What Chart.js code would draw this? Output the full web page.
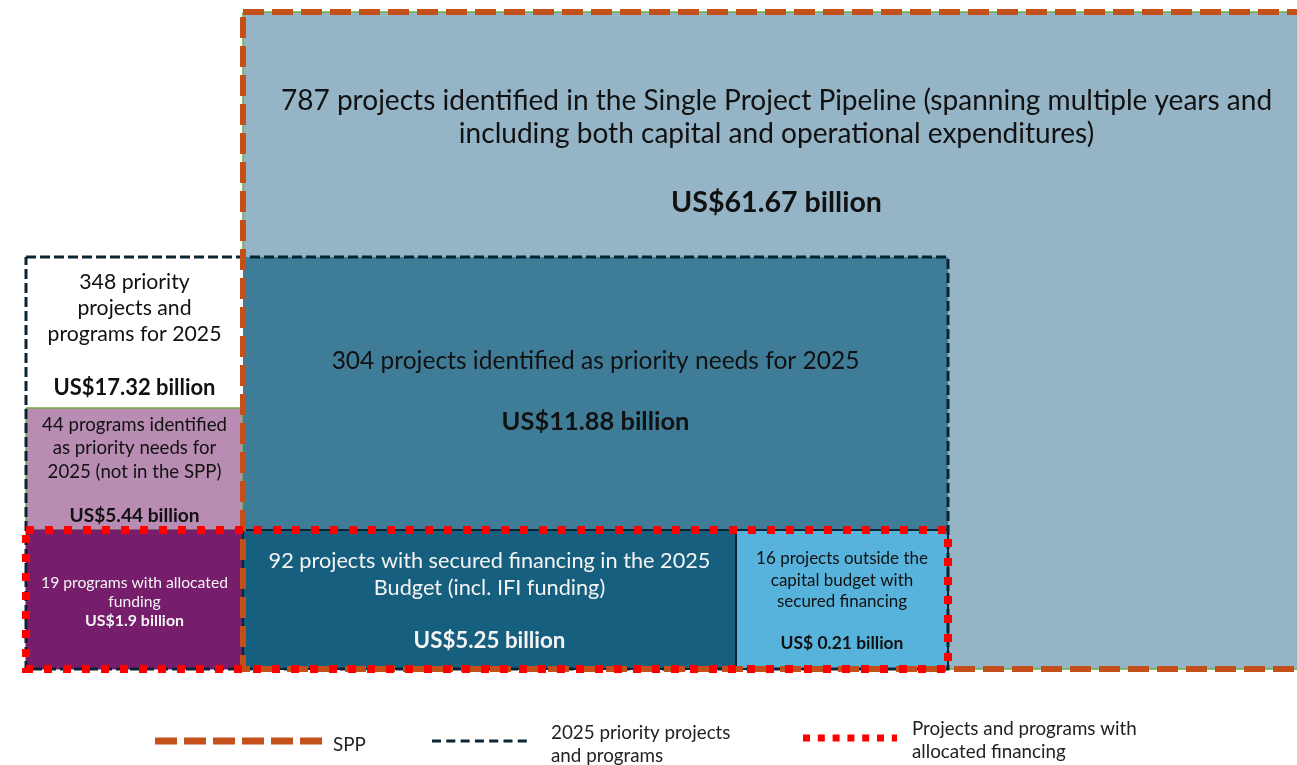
<!DOCTYPE html>
<html>
<head>
<meta charset="utf-8">
<script src="https://cdn.jsdelivr.net/npm/chart.js@4.4.1/dist/chart.umd.min.js"></script>
<style>
  html, body { margin: 0; padding: 0; background: #fff; }
  canvas { display: block; }
</style>
</head>
<body>
<canvas id="myChart" width="1297" height="765"></canvas>
<script>
// --- DONNÉES ---
// boxes, bottom to top: SPP, 348 priority, 44 programs, 19 programs, 304 projects, 92 projects, 16 projects
const boxLines = [
    ['787 projects identified in the Single Project Pipeline (spanning multiple years and',
     'including both capital and operational expenditures)'],
    ['348 priority', 'projects and', 'programs for 2025'],
    ['44 programs identified', 'as priority needs for', '2025 (not in the SPP)'],
    ['19 programs with allocated', 'funding'],
    ['304 projects identified as priority needs for 2025'],
    ['92 projects with secured financing in the 2025', 'Budget (incl. IFI funding)'],
    ['16 projects outside the', 'capital budget with', 'secured financing']
];
const boxBillions = [61.67, 17.32, 5.44, 1.9, 11.88, 5.25, 0.21];
const boxCurrency = ['US$', 'US$', 'US$', 'US$', 'US$', 'US$', 'US$ '];

// extents in diagram units
const boxX0 = [243, 26, 26, 26, 243, 243, 736];
const boxX1 = [1310, 243, 243, 243, 948, 736, 948];
const boxY0 = [12, 257, 408, 530, 257, 530, 530];
const boxY1 = [669, 408, 530, 669, 530, 669, 669];

// outlines: SPP, 2025 priority, allocated financing
const outlineNames = ['SPP', '2025 priority projects and programs', 'Projects and programs with allocated financing'];
const outlineX0 = [243, 26, 26];
const outlineX1 = [1310, 948, 948];
const outlineY0 = [12, 257, 530];
const outlineY1 = [669, 669, 669];

const legendLines = [['SPP'], ['2025 priority projects', 'and programs'], ['Projects and programs with', 'allocated financing']];

// --- STYLES ---
const FONT = 'Lato, "Open Sans", sans-serif';
const boxFill = ['#95b4c6', '#ffffff', '#b98cb3', '#761e6c', '#3f7c98', '#175f7f', '#57b3db'];
const boxBorder = ['#70ad47', '#ffffff', '#70ad47', '#761e6c', '#3f7c98', '#0b2433', '#0b2433'];
const boxBorderW = [1.5, 0, 1.5, 1, 0, 2, 2];
const boxText = ['#111', '#111', '#111', '#f4f4f4', '#111', '#f4f4f4', '#111'];
// text placement: y of each line, y of value, widest line index + its width, value width
const boxTextPos = [
    { y: [101, 134], vy: 203, fit: [0, 992], vfit: 211 },
    { y: [282, 308, 334], vy: 388, fit: [2, 174], vfit: 162 },
    { y: [425, 448, 472], vy: 516, fit: [0, 185], vfit: 130 },
    { y: [583, 602], vy: 621, fit: [0, 187], vfit: 99 },
    { y: [361], vy: 422, fit: [0, 528], vfit: 188 },
    { y: [561, 588], vy: 641, fit: [0, 442], vfit: 152 },
    { y: [559, 581, 602], vy: 643, fit: [0, 172], vfit: 123 }
];
const outlineStyle = [
    { color: '#c3501a', width: 6, dash: [21, 8] },
    { color: '#0b2433', width: 3, dash: [10, 4] },
    { color: '#ff0000', width: 8, dash: [8, 11] }
];
const legendStyle = [
    { x0: 155, x1: 322, y: 741, dash: [22, 7], width: 7, tx: 333, ty: [745], fit: [0, 38] },
    { x0: 432, x1: 527, y: 741, dash: [9, 5.3], width: 3, tx: 551, ty: [733, 756], fit: [0, 175] },
    { x0: 803, x1: 897, y: 738, dash: [7, 7.8], width: 7, tx: 912, ty: [729, 752], fit: [0, 225] }
];

function rectPoints(x0, x1, y0, y1) {
    return [{ x: x0, y: y0 }, { x: x1, y: y0 }, { x: x1, y: y1 }, { x: x0, y: y1 }, { x: x0, y: y0 }];
}

const datasets = [];
boxX0.forEach((_, i) => {
    datasets.push({
        data: rectPoints(boxX0[i], boxX1[i], boxY0[i], boxY1[i]),
        showLine: true, fill: 'shape',
        backgroundColor: boxFill[i], borderColor: boxBorder[i], borderWidth: boxBorderW[i]
    });
});
// draw order: priority (black) under SPP (orange) under financing (red)
[1, 0, 2].forEach(i => {
    const s = outlineStyle[i];
    datasets.push({
        label: outlineNames[i],
        data: rectPoints(outlineX0[i], outlineX1[i], outlineY0[i], outlineY1[i]),
        showLine: true, fill: false,
        borderColor: s.color, borderWidth: s.width, borderDash: s.dash
    });
});
legendStyle.forEach((s, i) => {
    datasets.push({
        label: outlineNames[i],
        data: [{ x: s.x0, y: s.y }, { x: s.x1, y: s.y }],
        showLine: true, fill: false,
        borderColor: outlineStyle[i].color, borderWidth: s.width, borderDash: s.dash
    });
});
// first dataset at the bottom
datasets.forEach((d, i) => {
    d.order = datasets.length - i;
    d.pointRadius = 0;
    d.tension = 0;
    d.borderCapStyle = 'butt';
    d.borderJoinStyle = 'miter';
});

function fitSize(ctx, text, weight, width) {
    ctx.font = `${weight} 100px ${FONT}`;
    return 100 * width / ctx.measureText(text).width;
}

const textPlugin = {
    id: 'boxText',
    afterDatasetsDraw(chart) {
        const { ctx, scales: { x, y } } = chart;
        ctx.save();
        ctx.textAlign = 'center';
        ctx.textBaseline = 'middle';
        boxLines.forEach((lines, i) => {
            const p = boxTextPos[i];
            const cx = x.getPixelForValue((boxX0[i] + boxX1[i]) / 2);
            const size = fitSize(ctx, lines[p.fit[0]], 'normal', p.fit[1]);
            ctx.fillStyle = boxText[i];
            ctx.font = `normal ${size}px ${FONT}`;
            lines.forEach((t, k) => ctx.fillText(t, cx, y.getPixelForValue(p.y[k])));
            const val = boxCurrency[i] + boxBillions[i] + ' billion';
            const vsize = fitSize(ctx, val, 'bold', p.vfit);
            ctx.font = `bold ${vsize}px ${FONT}`;
            ctx.fillText(val, cx, y.getPixelForValue(p.vy));
        });
        ctx.textAlign = 'left';
        ctx.fillStyle = '#222';
        const lsize = fitSize(ctx, legendLines[2][0], 'normal', legendStyle[2].fit[1]);
        ctx.font = `normal ${lsize}px ${FONT}`;
        legendLines.forEach((lines, i) => {
            const s = legendStyle[i];
            lines.forEach((t, k) => ctx.fillText(t, x.getPixelForValue(s.tx), y.getPixelForValue(s.ty[k])));
        });
        ctx.restore();
    }
};

const ctx = document.getElementById('myChart').getContext('2d');
new Chart(ctx, {
    type: 'scatter',
    data: { datasets: datasets },
    options: {
        responsive: false,
        animation: false,
        events: [],
        layout: { padding: 0 },
        plugins: { legend: { display: false }, tooltip: { enabled: false } },
        scales: {
            x: { type: 'linear', min: 0, max: 1297, display: false },
            y: { type: 'linear', min: 0, max: 765, reverse: true, display: false }
        }
    },
    plugins: [textPlugin]
});
</script>
</body>
</html>
